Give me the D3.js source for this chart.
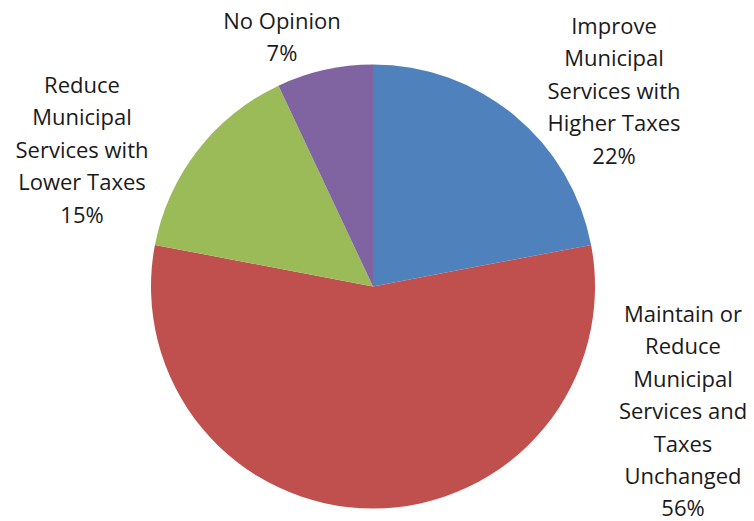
<!DOCTYPE html>
<html>
<head>
<meta charset="utf-8">
<script src="https://cdn.jsdelivr.net/npm/d3@7/dist/d3.min.js"></script>
<style>
  html, body { margin: 0; padding: 0; background: #fff; }
  svg { display: block; }
</style>
</head>
<body>
<svg id="chart" width="754" height="521"></svg>
<script>
// Survey responses on municipal services and taxes
const categories = [
  "Improve Municipal Services with Higher Taxes",
  "Maintain or Reduce Municipal Services and Taxes Unchanged",
  "Reduce Municipal Services with Lower Taxes",
  "No Opinion"
];
const shares = [22, 56, 15, 7];
const colors = ["#4F81BD", "#C0504D", "#9BBB59", "#8064A2"];

// Label text broken into lines, with label anchor (center x, first baseline)
const labelLines = [
  ["Improve", "Municipal", "Services with", "Higher Taxes"],
  ["Maintain or", "Reduce", "Municipal", "Services and", "Taxes", "Unchanged"],
  ["Reduce", "Municipal", "Services with", "Lower Taxes"],
  ["No Opinion"]
];
const labelAnchors = [[614, 34], [683, 322], [82, 93], [282, 29]];

const svg = d3.select("#chart");
const cx = 373, cy = 286.5, radius = 222;
const lineGap = 32.4;

const data = categories.map((c, i) => ({ name: c, value: shares[i], color: colors[i], lines: labelLines[i], anchor: labelAnchors[i] }));

const pie = d3.pie().value(d => d.value).sort(null);
const arc = d3.arc().innerRadius(0).outerRadius(radius);

const g = svg.append("g").attr("transform", `translate(${cx},${cy})`);
g.selectAll("path")
  .data(pie(data))
  .join("path")
  .attr("d", arc)
  .attr("fill", d => d.data.color);

const fmt = d => d + "%";
const labels = svg.append("g")
  .attr("font-family", "'Open Sans', sans-serif")
  .attr("font-size", 22)
  .attr("fill", "#1a1a1a")
  .attr("text-anchor", "middle");

data.forEach(d => {
  const t = labels.append("text")
    .attr("x", d.anchor[0])
    .attr("y", d.anchor[1]);
  d.lines.concat([fmt(d.value)]).forEach((line, i) => {
    t.append("tspan")
      .attr("x", d.anchor[0])
      .attr("y", d.anchor[1] + i * lineGap)
      .text(line);
  });
});
</script>
</body>
</html>
